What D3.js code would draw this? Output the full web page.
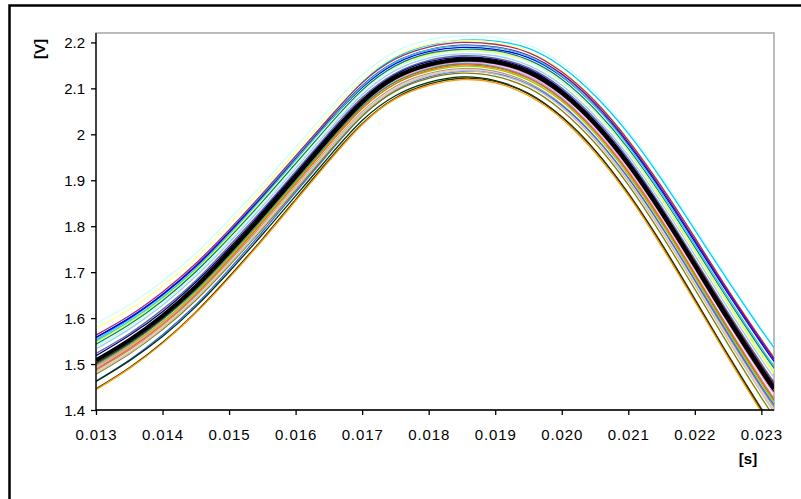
<!DOCTYPE html>
<html>
<head>
<meta charset="utf-8">
<script src="https://cdn.jsdelivr.net/npm/d3@7/dist/d3.min.js"></script>
<style>
  body { margin: 0; background: #fff; }
  text { font-family: Arial, "Liberation Sans", sans-serif; fill: #000; }
</style>
</head>
<body>
<div id="chart"></div>
<script>
// sample times [s]
var times = [0.013, 0.0135, 0.014, 0.0145, 0.015, 0.0155, 0.016, 0.0165, 0.017, 0.0175, 0.018, 0.0185,
             0.019, 0.0195, 0.020, 0.0205, 0.021, 0.0215, 0.022, 0.0225, 0.023, 0.02319];

var xTicks = [0.013, 0.014, 0.015, 0.016, 0.017, 0.018, 0.019, 0.020, 0.021, 0.022, 0.023];
var xTickLabels = ['0.013', '0.014', '0.015', '0.016', '0.017', '0.018', '0.019', '0.020', '0.021', '0.022', '0.023'];
var yTicks = [1.4, 1.5, 1.6, 1.7, 1.8, 1.9, 2.0, 2.1, 2.2];
var yTickLabels = ['1.4', '1.5', '1.6', '1.7', '1.8', '1.9', '2', '2.1', '2.2'];

// measured voltages [V], one array per trace
var s01 = [1.588, 1.629, 1.680, 1.741, 1.814, 1.891, 1.972, 2.054, 2.129, 2.180, 2.206, 2.214, 2.211, 2.194, 2.154, 2.091, 2.008, 1.908, 1.798, 1.686, 1.579, 1.541];
var s02 = [1.553, 1.597, 1.649, 1.713, 1.788, 1.868, 1.951, 2.035, 2.113, 2.167, 2.194, 2.205, 2.203, 2.187, 2.147, 2.084, 2.002, 1.902, 1.792, 1.681, 1.574, 1.536];
var s03 = [1.578, 1.619, 1.670, 1.731, 1.804, 1.881, 1.962, 2.044, 2.119, 2.170, 2.196, 2.204, 2.200, 2.181, 2.140, 2.075, 1.990, 1.889, 1.777, 1.663, 1.555, 1.516];
var s04 = [1.563, 1.605, 1.657, 1.719, 1.792, 1.871, 1.953, 2.035, 2.112, 2.164, 2.190, 2.200, 2.196, 2.178, 2.136, 2.072, 1.987, 1.886, 1.775, 1.661, 1.553, 1.514];
var s05 = [1.558, 1.600, 1.652, 1.714, 1.787, 1.865, 1.947, 2.030, 2.106, 2.158, 2.184, 2.194, 2.190, 2.172, 2.131, 2.067, 1.982, 1.881, 1.770, 1.657, 1.549, 1.510];
var s06 = [1.558, 1.600, 1.651, 1.712, 1.785, 1.863, 1.945, 2.027, 2.102, 2.154, 2.180, 2.189, 2.185, 2.167, 2.126, 2.062, 1.978, 1.877, 1.766, 1.653, 1.545, 1.506];
var s07 = [1.548, 1.590, 1.642, 1.704, 1.777, 1.855, 1.937, 2.020, 2.096, 2.148, 2.174, 2.184, 2.179, 2.159, 2.115, 2.049, 1.963, 1.859, 1.746, 1.631, 1.520, 1.481];
var s08 = [1.550, 1.593, 1.645, 1.708, 1.782, 1.861, 1.944, 2.027, 2.104, 2.157, 2.184, 2.193, 2.189, 2.170, 2.127, 2.061, 1.975, 1.872, 1.760, 1.645, 1.535, 1.496];
var s09 = [1.543, 1.586, 1.638, 1.701, 1.774, 1.853, 1.936, 2.019, 2.096, 2.149, 2.176, 2.185, 2.182, 2.162, 2.120, 2.054, 1.969, 1.866, 1.754, 1.639, 1.530, 1.491];
var s10 = [1.538, 1.581, 1.633, 1.696, 1.770, 1.849, 1.932, 2.015, 2.092, 2.145, 2.171, 2.181, 2.177, 2.158, 2.115, 2.050, 1.964, 1.862, 1.749, 1.635, 1.525, 1.486];
var s11 = [1.533, 1.576, 1.628, 1.691, 1.764, 1.843, 1.926, 2.009, 2.086, 2.139, 2.166, 2.175, 2.171, 2.150, 2.107, 2.040, 1.954, 1.850, 1.737, 1.621, 1.510, 1.471];
var s12 = [1.523, 1.566, 1.619, 1.682, 1.757, 1.836, 1.919, 2.003, 2.080, 2.133, 2.161, 2.171, 2.166, 2.145, 2.101, 2.034, 1.947, 1.842, 1.728, 1.612, 1.501, 1.461];
var s13 = [1.518, 1.562, 1.614, 1.678, 1.752, 1.832, 1.915, 1.999, 2.076, 2.130, 2.158, 2.168, 2.163, 2.142, 2.097, 2.029, 1.942, 1.837, 1.722, 1.606, 1.494, 1.454];
var s15 = [1.502, 1.546, 1.599, 1.664, 1.739, 1.819, 1.903, 1.987, 2.065, 2.120, 2.148, 2.159, 2.154, 2.132, 2.086, 2.018, 1.930, 1.825, 1.710, 1.592, 1.480, 1.440];
var s16 = [1.510, 1.554, 1.607, 1.670, 1.745, 1.825, 1.909, 1.993, 2.071, 2.124, 2.152, 2.163, 2.159, 2.138, 2.094, 2.028, 1.941, 1.837, 1.724, 1.608, 1.497, 1.458];
var s17 = [1.498, 1.543, 1.597, 1.662, 1.738, 1.819, 1.904, 1.989, 2.068, 2.123, 2.153, 2.165, 2.160, 2.137, 2.091, 2.022, 1.933, 1.828, 1.712, 1.594, 1.481, 1.441];
var s18 = [1.493, 1.538, 1.591, 1.656, 1.731, 1.812, 1.897, 1.981, 2.060, 2.115, 2.143, 2.155, 2.149, 2.126, 2.080, 2.010, 1.921, 1.815, 1.698, 1.580, 1.467, 1.426];
var s19 = [1.490, 1.535, 1.589, 1.654, 1.731, 1.812, 1.897, 1.982, 2.061, 2.116, 2.145, 2.158, 2.153, 2.130, 2.085, 2.016, 1.927, 1.822, 1.706, 1.589, 1.476, 1.436];
var s20 = [1.500, 1.544, 1.597, 1.660, 1.735, 1.815, 1.899, 1.983, 2.061, 2.114, 2.142, 2.153, 2.147, 2.123, 2.077, 2.007, 1.917, 1.811, 1.694, 1.575, 1.462, 1.421];
var s21 = [1.496, 1.540, 1.592, 1.656, 1.731, 1.811, 1.894, 1.978, 2.056, 2.110, 2.137, 2.148, 2.142, 2.118, 2.072, 2.002, 1.912, 1.806, 1.689, 1.570, 1.457, 1.416];
var s22 = [1.488, 1.533, 1.586, 1.651, 1.727, 1.808, 1.892, 1.977, 2.056, 2.110, 2.139, 2.151, 2.145, 2.122, 2.076, 2.007, 1.918, 1.812, 1.696, 1.578, 1.464, 1.424];
var s23 = [1.486, 1.530, 1.583, 1.648, 1.723, 1.803, 1.887, 1.971, 2.049, 2.104, 2.132, 2.143, 2.137, 2.112, 2.065, 1.995, 1.905, 1.798, 1.680, 1.561, 1.447, 1.406];
var s24 = [1.483, 1.527, 1.581, 1.645, 1.720, 1.800, 1.885, 1.969, 2.047, 2.101, 2.130, 2.141, 2.134, 2.110, 2.062, 1.992, 1.901, 1.794, 1.676, 1.557, 1.442, 1.401];
var s25 = [1.463, 1.509, 1.564, 1.629, 1.706, 1.788, 1.874, 1.959, 2.039, 2.095, 2.125, 2.137, 2.132, 2.109, 2.063, 1.994, 1.905, 1.799, 1.683, 1.565, 1.451, 1.411];
var s26 = [1.462, 1.507, 1.560, 1.625, 1.701, 1.782, 1.866, 1.951, 2.030, 2.084, 2.113, 2.125, 2.117, 2.089, 2.038, 1.965, 1.871, 1.761, 1.640, 1.518, 1.400, 1.358];
var s27 = [1.444, 1.490, 1.545, 1.611, 1.687, 1.769, 1.855, 1.941, 2.021, 2.077, 2.106, 2.119, 2.112, 2.084, 2.034, 1.960, 1.867, 1.756, 1.636, 1.514, 1.396, 1.354];
var s28 = [1.446, 1.492, 1.547, 1.613, 1.690, 1.772, 1.858, 1.944, 2.023, 2.079, 2.109, 2.122, 2.115, 2.088, 2.038, 1.965, 1.872, 1.762, 1.642, 1.520, 1.403, 1.361];
var s29 = [1.478, 1.522, 1.575, 1.639, 1.714, 1.794, 1.878, 1.962, 2.040, 2.094, 2.122, 2.133, 2.126, 2.101, 2.052, 1.981, 1.890, 1.781, 1.663, 1.543, 1.427, 1.386];
var s30 = [1.480, 1.524, 1.578, 1.642, 1.717, 1.797, 1.882, 1.966, 2.044, 2.098, 2.127, 2.138, 2.131, 2.107, 2.059, 1.988, 1.897, 1.789, 1.672, 1.552, 1.437, 1.396];
var sMean = [1.508, 1.552, 1.605, 1.669, 1.744, 1.824, 1.908, 1.992, 2.070, 2.124, 2.152, 2.163, 2.158, 2.136, 2.091, 2.023, 1.935, 1.830, 1.715, 1.598, 1.486, 1.446];

var traces = [s01, s02, s03, s04, s05, s06, s07, s08, s09, s10, s11, s12, s16, s17, s18, s19, s20,
              s21, s22, s23, s24, s25, s29, s30, s26, s28, s27, s13, s15];
var traceColors = ['#ccffff', '#00ccff', '#ffff99', '#993366', '#800080', '#0000ff', '#ffff00', '#33cccc',
                   '#008080', '#ccffcc', '#99ccff', '#666699', '#993300', '#ff00ff', '#cc99ff', '#ff99cc',
                   '#339966', '#99cc00', '#ff6600', '#969696', '#ffcc99', '#3366ff', '#808000', '#c0c0c0',
                   '#003300', '#333300', '#ff9900', '#000080', '#333333'];

var svg = d3.select('#chart').append('svg')
    .attr('width', 801)
    .attr('height', 499);

// outer frame (only top and left edges fall inside the picture)
svg.append('rect')
    .attr('x', 9.5).attr('y', 5.5)
    .attr('width', 900).attr('height', 900)
    .attr('fill', 'none')
    .attr('stroke', '#000')
    .attr('stroke-width', 2.5);

var plotL = 96, plotR = 774, plotT = 33, plotB = 410;

var x = d3.scaleLinear().domain([0.013, 0.02319]).range([plotL, plotR]);
var y = d3.scaleLinear().domain([1.4, 2.2205]).range([plotB, plotT]);

svg.append('defs').append('clipPath').attr('id', 'plot')
    .append('rect')
    .attr('x', plotL).attr('y', plotT)
    .attr('width', plotR - plotL).attr('height', plotB - plotT);

// plot area border
svg.append('rect')
    .attr('x', plotL).attr('y', plotT)
    .attr('width', plotR - plotL).attr('height', plotB - plotT)
    .attr('fill', '#fff')
    .attr('stroke', '#a6a6a6')
    .attr('stroke-width', 1.5);

var line = d3.line()
    .x((d, i) => x(times[i]))
    .y((d) => y(d))
    .curve(d3.curveNatural);

var lines = svg.append('g').attr('clip-path', 'url(#plot)');

lines.selectAll('path.trace')
    .data(traces)
    .enter()
    .append('path')
    .attr('class', 'trace')
    .attr('d', line)
    .attr('fill', 'none')
    .attr('stroke', (d, i) => traceColors[i])
    .attr('stroke-width', 1.3);

lines.append('path')
    .datum(sMean)
    .attr('d', line)
    .attr('fill', 'none')
    .attr('stroke', '#000')
    .attr('stroke-width', 4);

// axes
var xAxis = svg.append('g')
    .attr('transform', `translate(0, ${plotB})`)
    .call(d3.axisBottom(x).tickValues(xTicks).tickSize(5)
        .tickFormat((d, i) => xTickLabels[i]));

var yAxis = svg.append('g')
    .attr('transform', `translate(${plotL}, 0)`)
    .call(d3.axisLeft(y).tickValues(yTicks).tickSize(5)
        .tickFormat((d, i) => yTickLabels[i]));

[xAxis, yAxis].forEach((g) => {
    g.select('.domain').remove();
    g.selectAll('line').attr('stroke', '#000').attr('stroke-width', 1.3);
    g.selectAll('text').attr('font-family', 'Arial, "Liberation Sans", sans-serif')
        .attr('font-size', 15).attr('fill', '#000');
});
xAxis.selectAll('text').attr('dy', null).attr('y', 29.5).attr('letter-spacing', 0.9);
yAxis.selectAll('text').attr('dy', null).attr('x', -11).attr('y', 5);

svg.append('line')
    .attr('x1', plotL).attr('x2', plotL).attr('y1', plotT).attr('y2', plotB)
    .attr('stroke', '#000').attr('stroke-width', 1.3);
svg.append('line')
    .attr('x1', plotL).attr('x2', plotR).attr('y1', plotB).attr('y2', plotB)
    .attr('stroke', '#000').attr('stroke-width', 1.3);

// axis titles
svg.append('text')
    .attr('x', 748).attr('y', 464)
    .attr('text-anchor', 'middle')
    .attr('font-weight', 'bold')
    .attr('font-size', 15)
    .text('[s]');

svg.append('text')
    .attr('transform', 'translate(45, 49) rotate(-90)')
    .attr('text-anchor', 'middle')
    .attr('font-weight', 'bold')
    .attr('font-size', 15)
    .text('[V]');
</script>
</body>
</html>
